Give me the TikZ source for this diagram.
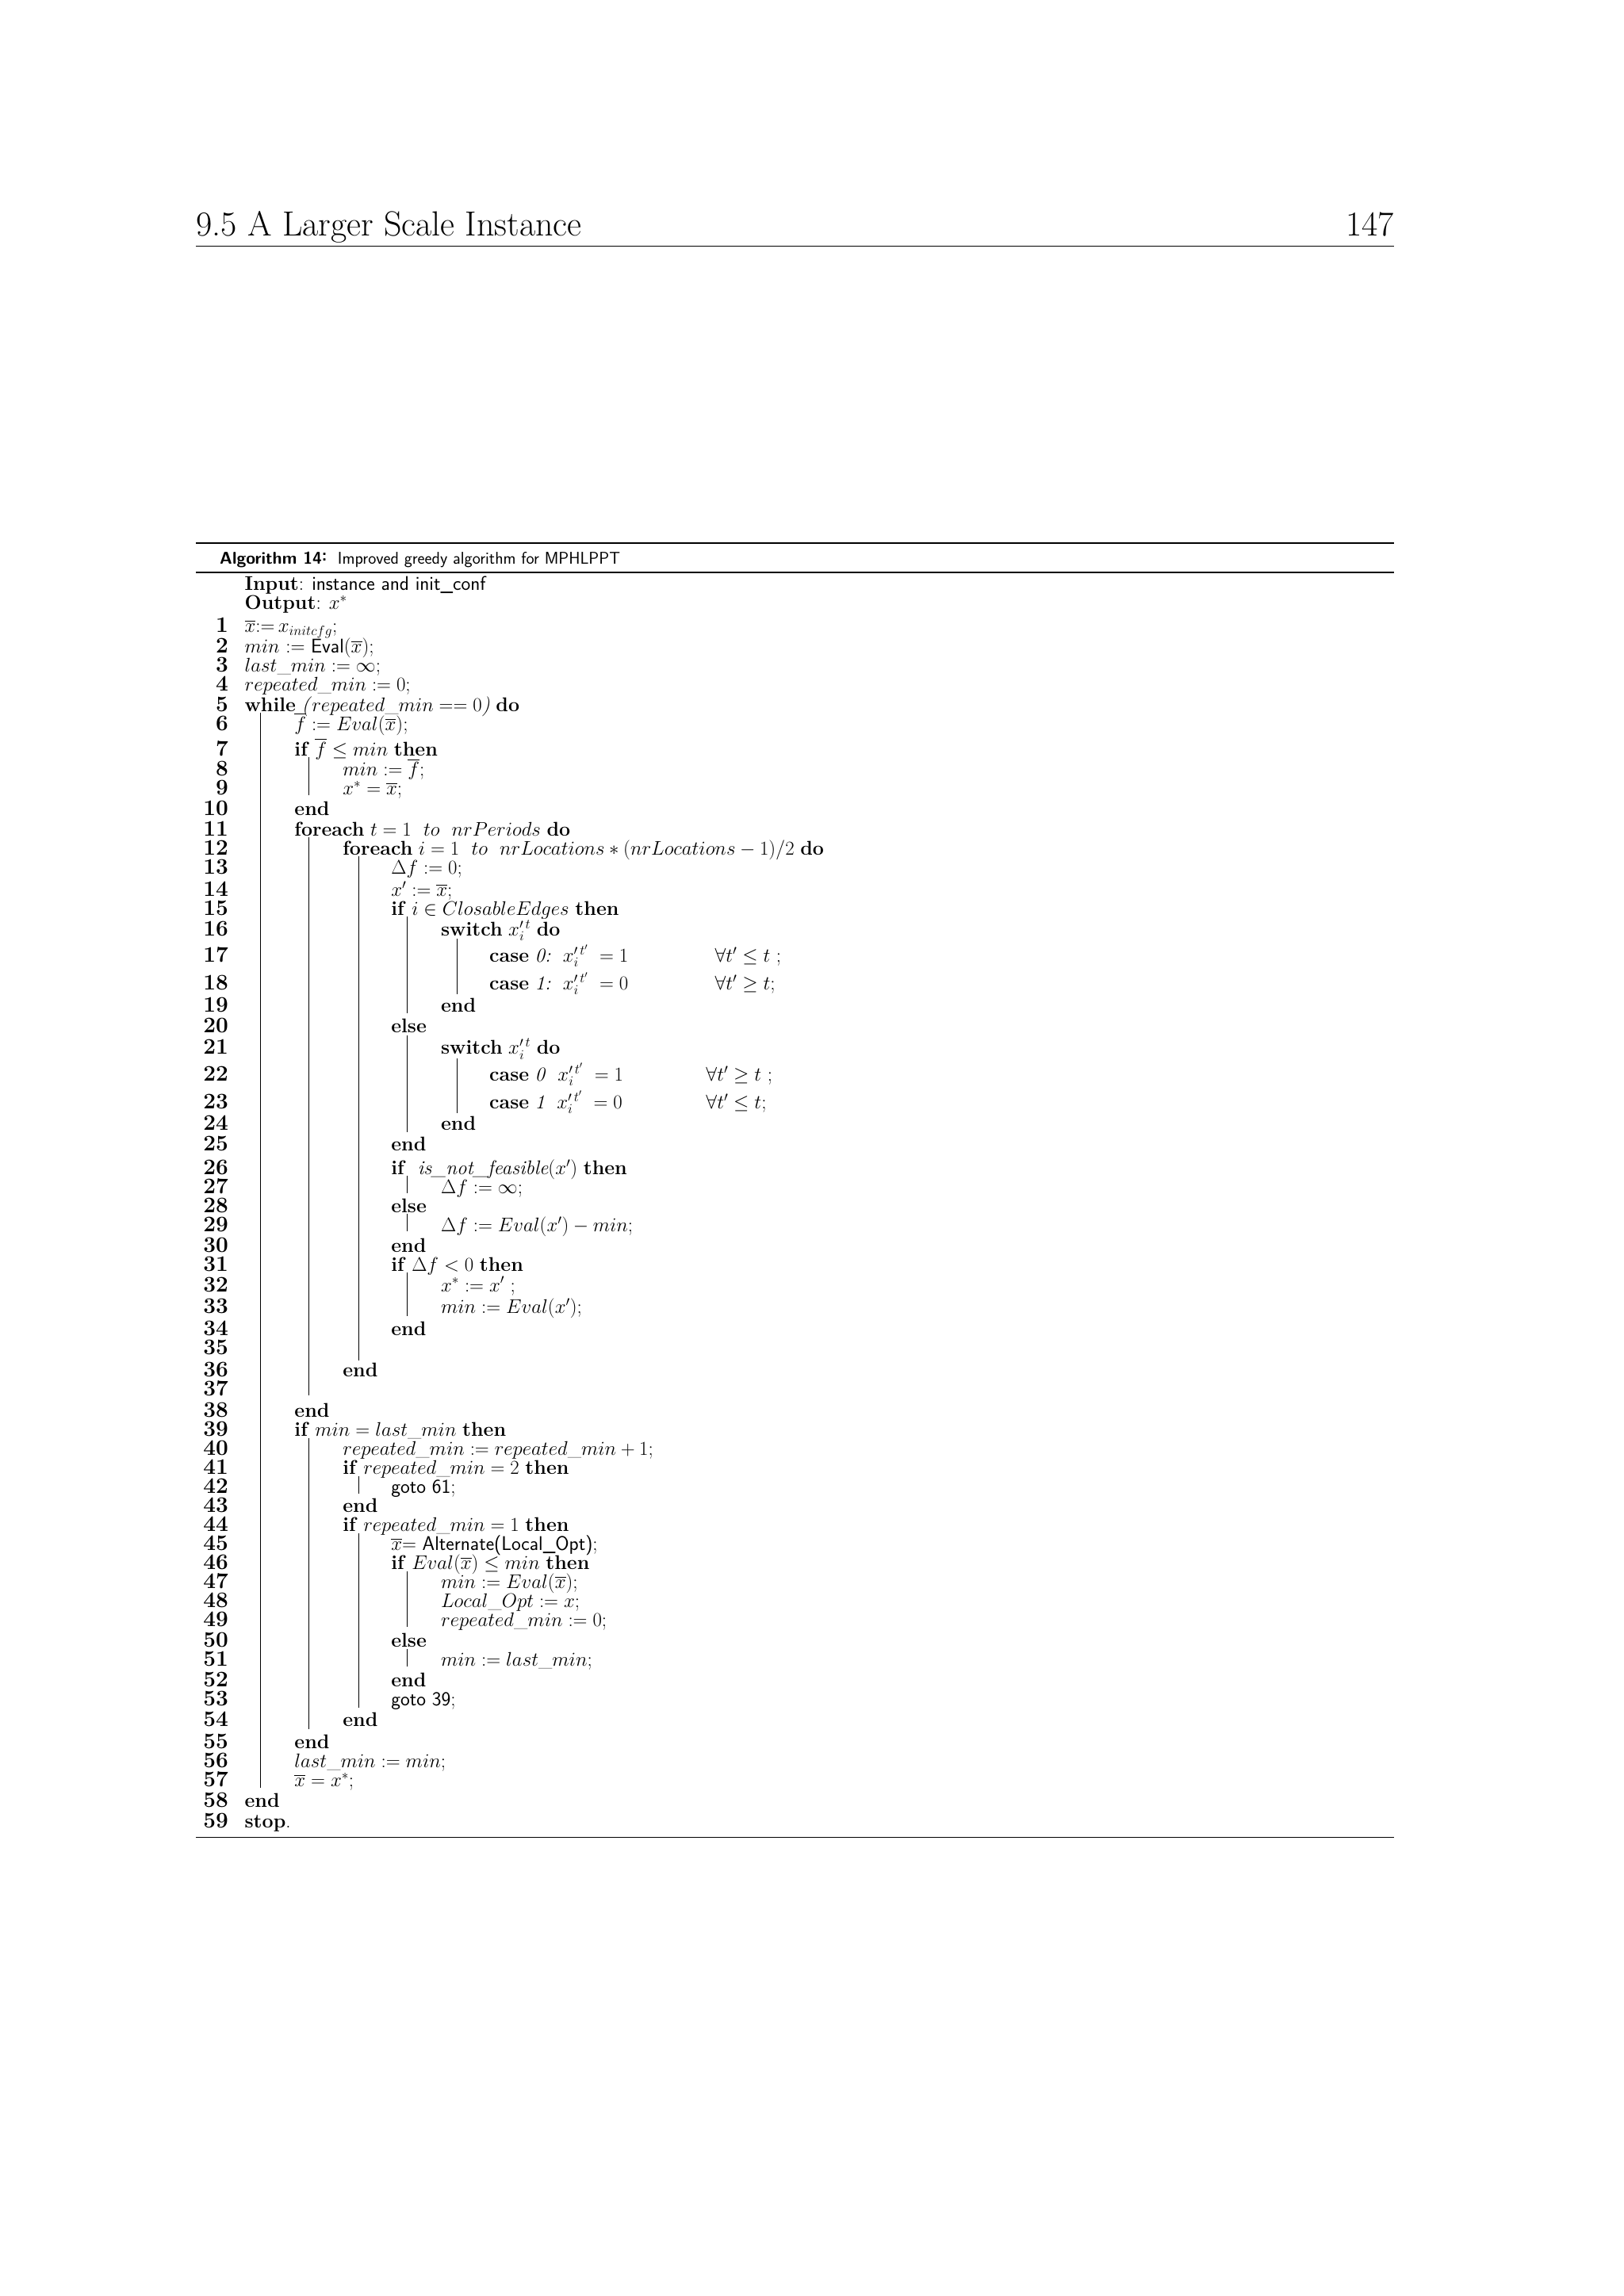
\documentclass[tikz,border=0pt]{standalone}
\usepackage{amssymb}
\begin{document}
\begin{tikzpicture}[x=1.847pt,y=-1.847pt,
  lnum/.style={anchor=base east,inner sep=0pt,font=\fontsize{28}{28}\selectfont\bfseries},
  ltext/.style={anchor=base west,inner sep=0pt,font=\fontsize{25}{26}\selectfont},
  bar/.style={line width=1.3pt},
  rul/.style={line width=1pt}]
\useasboundingbox (0,0) rectangle (1108.8,1568);
\newcommand\algline[4]{\node[lnum] (n#1) at (156,#2+5) {#1}; \node[ltext] (t#1) at (#3,#2+5) {#4};}
% header
\node[anchor=base west,inner sep=0pt,font=\fontsize{44}{44}\selectfont] (hd) at (134,161) {9.5 A Larger Scale Instance};
\node[anchor=base east,inner sep=0pt,font=\fontsize{44}{44}\selectfont] (pg) at (952,161) {147};
\coordinate (hl) at (134,168); \coordinate (hr) at (952,168);
\draw[line width=1pt] (hl) -- (hr);
% algorithm frame
\coordinate (a1) at (134,371); \coordinate (a2) at (952,371);
\coordinate (b1) at (134,391); \coordinate (b2) at (952,391);
\coordinate (c1) at (134,1255); \coordinate (c2) at (952,1255);
\draw[line width=2.2pt] (a1) -- (a2);
\draw[line width=1.8pt] (b1) -- (b2);
\draw[line width=1pt] (c1) -- (c2);
\node[anchor=base west,inner sep=0pt,font=\fontsize{21.5}{22}\selectfont\sffamily] (cap) at (150,385)
  {\textbf{Algorithm 14\raisebox{0.35ex}{:}}\ \ Improved greedy algorithm for MPHLPPT};
\node[ltext] (inp) at (167,403) {\textbf{Input}: \textsf{instance and init\_conf}};
\node[ltext] (outp) at (167,416) {\textbf{Output}: $x^{*}$};
\algline{1}{427}{167}{$\overline{x}{:=}\,x_{initcfg}$;}
\algline{2}{441}{167}{$min$ := \textsf{Eval}($\overline{x}$);}
\algline{3}{454}{167}{$last\_min := \infty$;}
\algline{4}{467}{167}{$repeated\_min := 0$;}
\algline{5}{481}{167}{\textbf{while} \textit{(}$repeated\_min == 0$\textit{)} \textbf{do}}
\algline{6}{494}{201}{$\overline{f} := Eval(\overline{x})$;}
\algline{7}{511}{201}{\textbf{if} $\overline{f} \leq min$ \textbf{then}}
\algline{8}{525}{234}{$min := \overline{f}$;}
\algline{9}{538}{234}{$x^{*} = \overline{x}$;}
\algline{10}{552}{201}{\textbf{end}}
\algline{11}{566}{201}{\textbf{foreach} $t = 1\ \ to\ \ nrPeriods$ \textbf{do}}
\algline{12}{579}{234}{\textbf{foreach} $i = 1\ \ to\ \ nrLocations * (nrLocations - 1)/2$ \textbf{do}}
\algline{13}{592}{267}{$\Delta f := 0$;}
\algline{14}{607}{267}{$x' := \overline{x}$;}
\algline{15}{620}{267}{\textbf{if} $i \in ClosableEdges$ \textbf{then}}
\algline{16}{634}{301}{\textbf{switch} $x^{\prime\, t}_{i}$ \textbf{do}}
\algline{17}{652}{334}{\textbf{case} \textit{0:}\ \ $x^{\prime\, t'}_{i}\ = 1$}
\algline{18}{671}{334}{\textbf{case} \textit{1:}\ \ $x^{\prime\, t'}_{i}\ = 0$}
\node[ltext] (f17) at (488,657) {$\forall t' \leq t$ ;};
\node[ltext] (f18) at (488,676) {$\forall t' \geq t$;};
\algline{19}{686}{301}{\textbf{end}}
\algline{20}{700}{267}{\textbf{else}}
\algline{21}{715}{301}{\textbf{switch} $x^{\prime\, t}_{i}$ \textbf{do}}
\algline{22}{733}{334}{\textbf{case} \textit{0}\ \ $x^{\prime\, t'}_{i}\ = 1$}
\algline{23}{752}{334}{\textbf{case} \textit{1}\ \ $x^{\prime\, t'}_{i}\ = 0$}
\node[ltext] (f22) at (482,738) {$\forall t' \geq t$ ;};
\node[ltext] (f23) at (482,757) {$\forall t' \leq t$;};
\algline{24}{767}{301}{\textbf{end}}
\algline{25}{781}{267}{\textbf{end}}
\algline{26}{797}{267}{\textbf{if}\ \ \textit{is\_not\_feasible}($x'$) \textbf{then}}
\algline{27}{810}{301}{$\Delta f := \infty$;}
\algline{28}{823}{267}{\textbf{else}}
\algline{29}{836}{301}{$\Delta f := Eval(x') - min$;}
\algline{30}{850}{267}{\textbf{end}}
\algline{31}{863}{267}{\textbf{if} $\Delta f < 0$ \textbf{then}}
\algline{32}{877}{301}{$x^{*} := x'$ ;}
\algline{33}{892}{301}{$min := Eval(x')$;}
\algline{34}{907}{267}{\textbf{end}}
\algline{35}{920}{267}{}
\algline{36}{935}{234}{\textbf{end}}
\algline{37}{948}{234}{}
\algline{38}{963}{201}{\textbf{end}}
\algline{39}{976}{201}{\textbf{if} $min = last\_min$ \textbf{then}}
\algline{40}{989}{234}{$repeated\_min := repeated\_min + 1$;}
\algline{41}{1002}{234}{\textbf{if} $repeated\_min = 2$ \textbf{then}}
\algline{42}{1015}{267}{\textsf{goto 61};}
\algline{43}{1028}{234}{\textbf{end}}
\algline{44}{1041}{234}{\textbf{if} $repeated\_min = 1$ \textbf{then}}
\algline{45}{1054}{267}{$\overline{x}$= \textsf{Alternate(Local\_Opt)};}
\algline{46}{1067}{267}{\textbf{if} $Eval(\overline{x}) \leq min$ \textbf{then}}
\algline{47}{1080}{301}{$min := Eval(\overline{x})$;}
\algline{48}{1093}{301}{$Local\_Opt := x$;}
\algline{49}{1106}{301}{$repeated\_min := 0$;}
\algline{50}{1120}{267}{\textbf{else}}
\algline{51}{1133}{301}{$min := last\_min$;}
\algline{52}{1147}{267}{\textbf{end}}
\algline{53}{1160}{267}{\textsf{goto 39};}
\algline{54}{1174}{234}{\textbf{end}}
\algline{55}{1189}{201}{\textbf{end}}
\algline{56}{1202}{201}{$last\_min := min$;}
\algline{57}{1215}{201}{$\overline{x} = x^{*}$;}
\algline{58}{1229}{167}{\textbf{end}}
\algline{59}{1243}{167}{\textbf{stop}.}
% block bars
\draw[bar] (178,487) -- (178,1221);
\draw[bar] (211,517) -- (211,543);
\draw[bar] (211,572) -- (211,953);
\draw[bar] (245,585) -- (245,929);
\draw[bar] (278,626) -- (278,692);
\draw[bar] (312,641) -- (312,679);
\draw[bar] (278,707) -- (278,773);
\draw[bar] (312,723) -- (312,760);
\draw[bar] (278,803) -- (278,815);
\draw[bar] (278,829) -- (278,841);
\draw[bar] (278,869) -- (278,899);
\draw[bar] (211,982) -- (211,1181);
\draw[bar] (245,1008) -- (245,1020);
\draw[bar] (245,1047) -- (245,1166);
\draw[bar] (278,1073) -- (278,1111);
\draw[bar] (278,1126) -- (278,1138);
\end{tikzpicture}
\end{document}
